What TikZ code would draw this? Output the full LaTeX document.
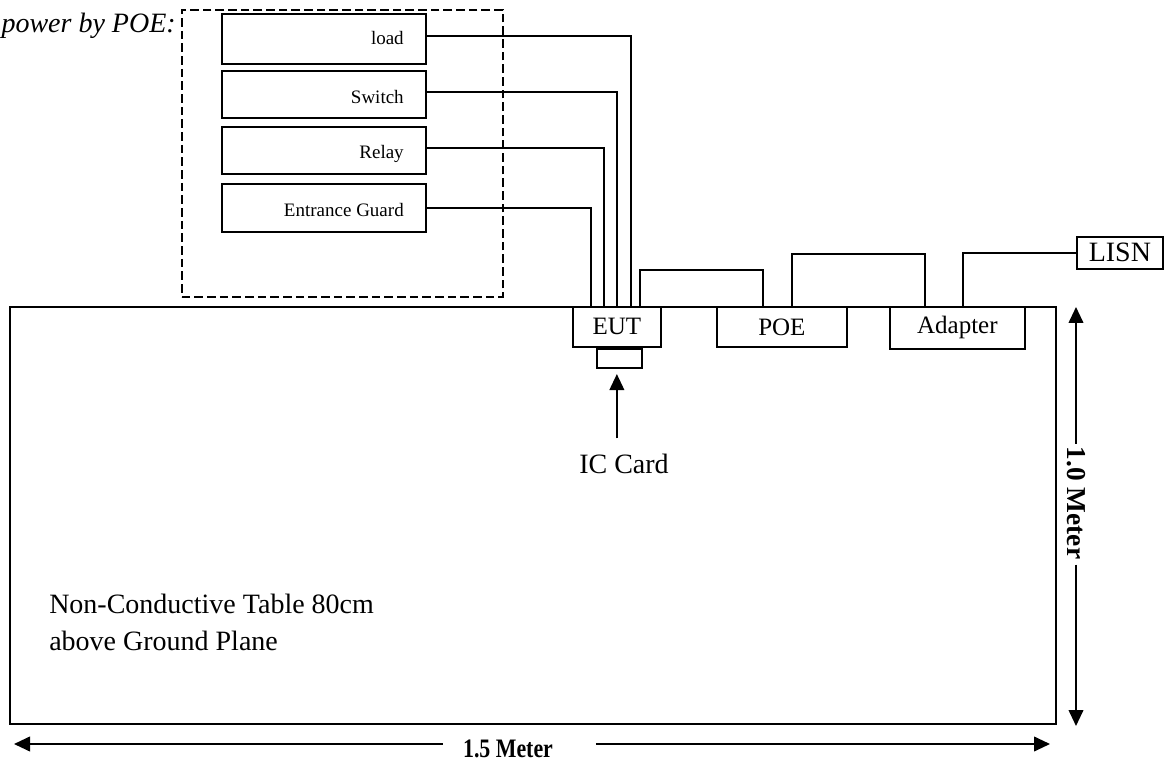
\documentclass[tikz,border=0pt]{standalone}
\usepackage{fontspec}
\setmainfont{Liberation Serif}
\usetikzlibrary{arrows.meta,calc}
\begin{document}
\begin{tikzpicture}[x=0.75pt,y=-0.75pt,
  box/.style={draw,line width=1.3pt,inner sep=0pt,anchor=north west},
  wire/.style={line width=1.2pt},
  dimarrow/.style={line width=1.4pt,-{Triangle[length=12pt,width=11pt]}},
  lbl/.style={inner sep=0pt,font=\fontsize{14.25}{17}\selectfont,anchor=base east},
  dev/.style={box,font=\fontsize{18.75}{22}\selectfont},
  big/.style={inner sep=0pt,font=\fontsize{21}{25}\selectfont},
]
\useasboundingbox (0,0) rectangle (1167,762);
% table
\node[box,line width=1.7pt,minimum width=784.5pt,minimum height=312.75pt] (table) at (9,306) {};
% dashed group
\node[box,dash pattern=on 6.5pt off 3pt,line width=1.2pt,minimum width=240.75pt,minimum height=215.25pt] (group) at (181,9) {};
\node[big,font=\fontsize{21}{25}\selectfont\itshape,anchor=base east] (pbp) at (176,33) {power by POE:};
% peripheral boxes
\node[box,minimum width=153pt,minimum height=37.5pt] (load) at (221,13) {};
\node[box,minimum width=153pt,minimum height=35.25pt] (sw) at (221,70) {};
\node[box,minimum width=153pt,minimum height=35.25pt] (relay) at (221,126) {};
\node[box,minimum width=153pt,minimum height=36pt] (guard) at (221,183) {};
\node[lbl] (tload) at (404,45) {load};
\node[lbl] (tsw) at (404,104) {Switch};
\node[lbl] (trelay) at (404,159) {Relay};
\node[lbl] (tguard) at (404,217) {Entrance Guard};
% devices
\node[dev,minimum width=66pt,minimum height=30pt] (eut) at (572,306) {EUT};
\node[box,minimum width=33.75pt,minimum height=14.25pt] (card) at (596,348) {};
\node[dev,minimum width=97.5pt,minimum height=30pt] (poe) at (716,306) {POE};
\node[dev,minimum width=101.25pt,minimum height=31.5pt] (adapter) at (889,306) {Adapter};
\node[box,font=\fontsize{21}{25}\selectfont,minimum width=64.5pt,minimum height=24pt] (lisn) at (1076,236) {LISN};
% wires
\draw[wire] ($(load.east)+(0,-3)$) -| ($(eut.north west)+(59,0)$);
\draw[wire] ($(sw.east)+(0,-2.5)$) -| ($(eut.north west)+(45,0)$);
\draw[wire] ($(relay.east)+(0,-2.5)$) -| ($(eut.north west)+(32,0)$);
\draw[wire] (guard.east) -| ($(eut.north west)+(19,0)$);
\draw[wire] ($(eut.north west)+(68,0)$) -- ++(0,-36) -| ($(poe.north west)+(47,0)$);
\draw[wire] ($(poe.north west)+(76,0)$) -- ++(0,-52) -| ($(adapter.north west)+(36,0)$);
\draw[wire] ($(adapter.north west)+(74,0)$) |- (lisn.west);
% IC card
\node[big,anchor=base] (ic) at (624,474) {IC Card};
\coordinate (cardin) at ($(card.south)+(-2.5,0)$);
\draw[dimarrow,shorten <=12pt,shorten >=4pt] (cardin |- ic.north) -- (cardin);
% table text
\node[big,anchor=base west,align=left,font=\fontsize{21}{27.75}\selectfont] (ttext) at (49,650) {Non-Conductive Table 80cm\\above Ground Plane};
% vertical dimension
\node[inner sep=0pt,rotate=-90,font=\fontsize{20.5}{24}\selectfont\bfseries] (dimv) at (1076,503) {1.0 Meter};
\coordinate (vtop) at (1076,307);
\coordinate (vbot) at (1076,726);
\draw[dimarrow,shorten <=2pt] (dimv.west) -- (vtop);
\draw[dimarrow,shorten <=4pt] (dimv.east) -- (vbot);
% horizontal dimension
\node[inner sep=0pt,anchor=base,font=\fontsize{20}{24}\selectfont\bfseries] (dimh) at (508,757) {\scalebox{0.82}[1]{1.5 Meter}};
\coordinate (hl) at (14,744);
\coordinate (hr) at (1050,744);
\draw[dimarrow,shorten <=15pt] (dimh.west |- hl) -- (hl);
\draw[dimarrow,shorten <=32pt] (dimh.east |- hr) -- (hr);
\end{tikzpicture}
\end{document}
